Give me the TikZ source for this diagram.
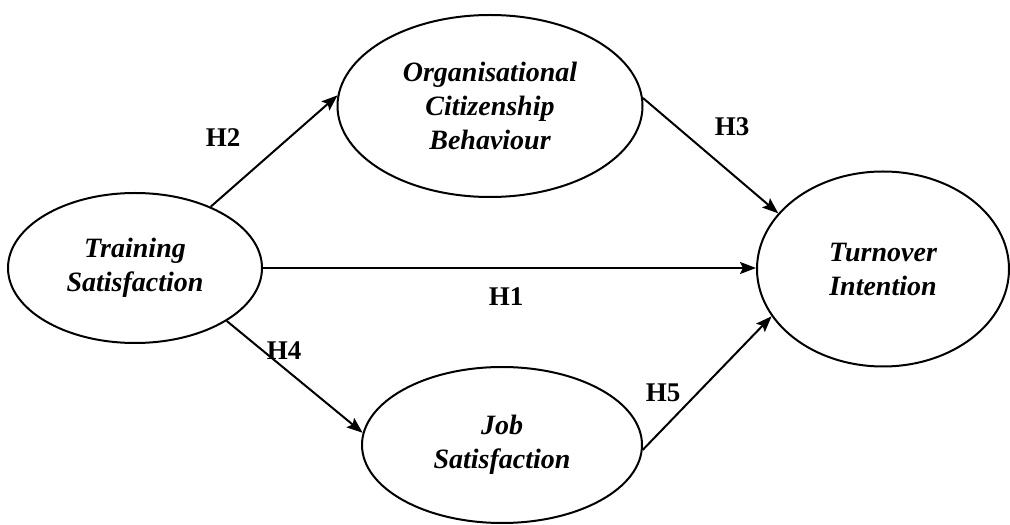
\documentclass[tikz,border=0pt]{standalone}
\usepackage{fontspec}
\setmainfont{Liberation Serif}
\usetikzlibrary{shapes.geometric,arrows.meta}

\begin{document}
\begin{tikzpicture}[x=1pt, y=1pt,
    every path/.style={line width=2pt},
    var/.style={draw, ellipse, inner sep=0pt, align=center,
                font=\fontsize{28}{34}\selectfont\bfseries\itshape},
    hyp/.style={font=\fontsize{27}{30}\selectfont\bfseries},
    arr/.style={-{Stealth[length=16pt, width=12pt, inset=3pt]}}]

            \useasboundingbox (0,0) rectangle (1010,525);

            % Nodes
            \node[var, minimum width=254, minimum height=150] at (135,257) (TS) {Training\\Satisfaction};
            \node[var, minimum width=305, minimum height=182] at (490,419) (OCB) {Organisational\\Citizenship\\Behaviour};
            \node[var, minimum width=252, minimum height=195] at (883,256) (TI) {Turnover\\Intention};
            \node[var, minimum width=280, minimum height=156] at (502,80) (JS) {Job\\Satisfaction};

            % Lines
            \draw[arr] (TS.39) -- (OCB.176);
            \draw[arr] (OCB.3) -- (TI.152);
            \draw[arr] (TS.east) -- (TS.east -| TI.west);
            \draw[arr] (TS.-30) -- (JS.175);
            \draw[arr] (JS.-2) -- (TI.203);

            % Labels
            \node[hyp] at (506,228) (H1) {H1};
            \node[hyp] at (223,387) (H2) {H2};
            \node[hyp] at (732,398) (H3) {H3};
            \node[hyp] at (284,174) (H4) {H4};
            \node[hyp] at (663,132) (H5) {H5};

\end{tikzpicture}
\end{document}
